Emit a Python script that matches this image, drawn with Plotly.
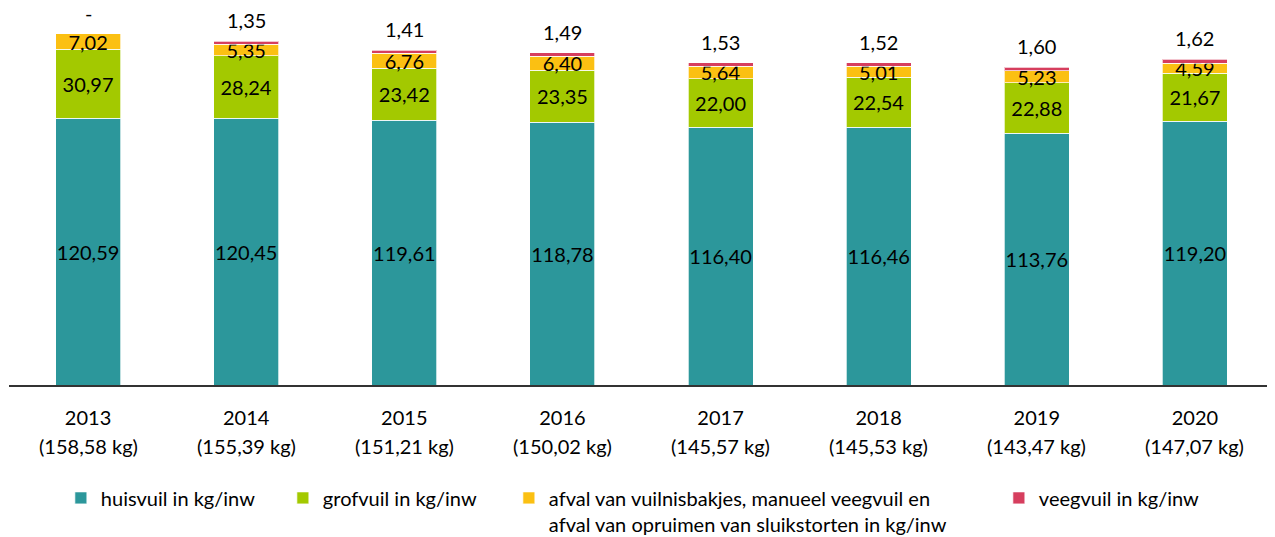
import plotly.graph_objects as go

years = ["2013", "2014", "2015", "2016", "2017", "2018", "2019", "2020"]
totals = [158.58, 155.39, 151.21, 150.02, 145.57, 145.53, 143.47, 147.07]
huisvuil = [120.59, 120.45, 119.61, 118.78, 116.40, 116.46, 113.76, 119.20]
grofvuil = [30.97, 28.24, 23.42, 23.35, 22.00, 22.54, 22.88, 21.67]
afval = [7.02, 5.35, 6.76, 6.40, 5.64, 5.01, 5.23, 4.59]
veegvuil = [0.0, 1.35, 1.41, 1.49, 1.53, 1.52, 1.60, 1.62]

names = [
    "huisvuil in kg/inw",
    "grofvuil in kg/inw",
    "afval van vuilnisbakjes, manueel veegvuil en<br>afval van opruimen van sluikstorten in kg/inw",
    "veegvuil in kg/inw",
]
colors = ["#2C979B", "#A3C900", "#FBC012", "#D63E5E"]
legend_widths = [177, 181, 445, 180]

FONT = "Lato"
FS = 20


def fmt(v):
    return "-" if v == 0 else f"{v:.2f}".replace(".", ",")


fig = go.Figure()
for i, (vals, name, col, lw) in enumerate(zip([huisvuil, grofvuil, afval, veegvuil], names, colors, legend_widths)):
    show_text = i < 3
    fig.add_trace(go.Bar(
        x=years, y=vals, name=name,
        legendwidth=lw,
        marker=dict(color=col, line=dict(color="rgba(255,255,255,0.7)", width=1)),
        text=[fmt(v) for v in vals] if show_text else None,
        textposition="inside" if show_text else "none",
        insidetextanchor="middle",
        constraintext="none",
        textangle=0,
        textfont=dict(family=FONT, size=FS, color="black"),
        hoverinfo="skip",
    ))

# stack tops computed from the segment values (for the veegvuil label position)
stack_tops = [h + g + a + v for h, g, a, v in zip(huisvuil, grofvuil, afval, veegvuil)]

annotations = []
for idx, (top, v, t) in enumerate(zip(stack_tops, veegvuil, totals)):
    annotations.append(dict(
        x=idx, y=top, xref="x", yref="y", text=fmt(v), showarrow=False,
        yanchor="bottom", yshift=7, font=dict(family=FONT, size=FS, color="black"),
    ))
    annotations.append(dict(
        x=idx, y=0, xref="x", yref="paper", text="(" + f"{t:.2f}".replace(".", ",") + " kg)",
        showarrow=False, yanchor="middle", yshift=-61,
        font=dict(family=FONT, size=FS, color="black"),
    ))

fig.update_layout(
    barmode="stack",
    bargap=0.589,
    width=1267, height=529,
    margin=dict(l=1, r=1, t=2, b=152, autoexpand=False),
    paper_bgcolor="white", plot_bgcolor="white",
    font=dict(family=FONT, size=FS, color="black"),
    xaxis=dict(
        type="category", showline=True, linecolor="#333333", linewidth=2,
        ticks="", showgrid=False, ticklabelstandoff=14,
        range=[-0.5, len(years) - 0.5],
        tickfont=dict(family=FONT, size=FS, color="black"),
    ),
    yaxis=dict(visible=False, range=[0, 169.4], showgrid=False),
    legend=dict(
        orientation="h", x=0.041, xanchor="left", y=-0.249, yanchor="top",
        valign="top", itemwidth=30, traceorder="normal",
        font=dict(family=FONT, size=FS, color="black"),
    ),
    annotations=annotations,
)

fig.write_html("out.html")
